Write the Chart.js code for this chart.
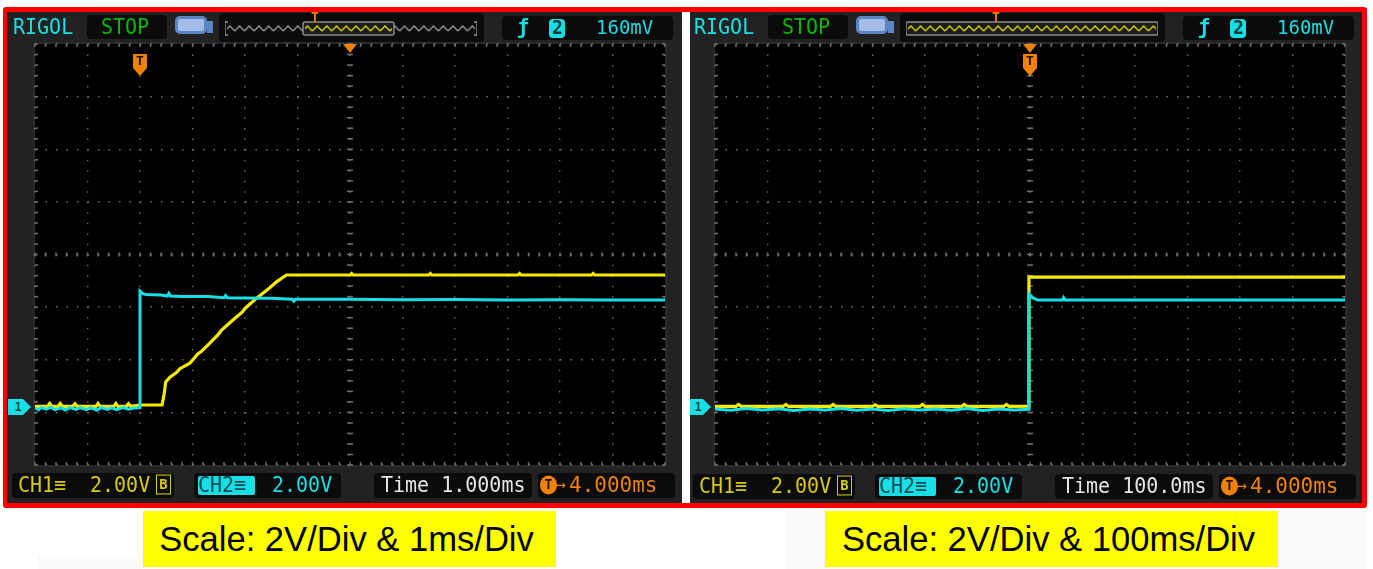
<!DOCTYPE html>
<html>
<head>
<meta charset="utf-8">
<title>RIGOL captures</title>
<script src="https://cdn.jsdelivr.net/npm/chart.js@4"></script>
<style>
	html, body { margin: 0; padding: 0; background: #fff; width: 1373px; height: 569px; overflow: hidden; }
	#frame { position: absolute; left: 3px; top: 7px; width: 1364px; height: 501px; background: #f00; border-radius: 3px; }
	#gap { position: absolute; left: 682px; top: 12px; width: 8px; height: 491px; background: #fff; }
	.patch { position: absolute; background: #fafafa; }
	.panel { position: absolute; top: 12px; height: 491px; background: #222; filter: blur(0.7px); }
	.panel canvas { position: absolute; left: 0; top: 0; }
	.box { position: absolute; background: #0b0b0b; border-radius: 4px; }
	.txt { position: absolute; font-family: "DejaVu Sans Mono", monospace; font-size: 20px; line-height: 24px; white-space: pre; transform: scaleY(1.05); }
	.cap { position: absolute; top: 511px; height: 56px; background: #ff0; color: #000; font-family: "Liberation Sans", Arial, sans-serif; font-size: 34.6px; line-height: 56px; text-align: center; white-space: pre; box-sizing: border-box; }
	.batt { position: absolute; width: 26px; height: 12px; background: #a3bde8; border: 3px solid #5b85c5; border-radius: 5px; box-sizing: content-box; }
	.nub { position: absolute; width: 6px; height: 12px; background: #5b85c5; }
</style>
</head>
<body>
<div class="patch" style="left:37px;top:557px;width:106px;height:12px"></div>
<div class="patch" style="left:785px;top:511px;width:582px;height:58px"></div>
<div id="frame"></div>
<div id="gap"></div>
<div class="panel" id="panelA" style="left:7px;width:675px"><canvas id="scopeA" width="675" height="491"></canvas></div>
<div class="panel" id="panelB" style="left:690px;width:672px"><canvas id="scopeB" width="672" height="491"></canvas></div>
<div class="cap" style="left:143px;width:413px;padding-right:6px">Scale: 2V/Div &amp; 1ms/Div</div>
<div class="cap" style="left:825px;width:453px;padding-right:6px">Scale: 2V/Div &amp; 100ms/Div</div>

<script>
// Grid lines, in the units of each capture
const fastTimeTicks = [-2, -1, 0, 1, 2, 3, 4, 5, 6, 7, 8, 9, 10];
const slowTimeTicks = [-600, -500, -400, -300, -200, -100, 0, 100, 200, 300, 400, 500, 600];
const voltTicks = [-2.2, -0.2, 1.8, 3.8, 5.8, 7.8, 9.8, 11.8, 13.8];

// Left capture, 1 ms/div: time in ms, level in V
const fastCh1Time = [-2, -1.76, -1.72, -1.68, -1.56, -1.52, -1.48, -1.28, -1.24, -1.2, -0.84, -0.8, -0.76, -0.5, -0.46, -0.42, -0.26, -0.22, -0.18, 0, 0.42, 0.46, 0.49, 0.57, 0.7, 0.76, 0.95, 1.1, 1.16, 1.33, 1.5, 1.55, 1.77, 1.95, 2.0, 2.22, 2.45, 2.6, 2.79, 4, 4.03, 4.06, 5.5, 5.53, 5.56, 7.2, 7.23, 7.26, 8.6, 8.63, 8.66, 10];
const fastCh1Volts = [0.03, 0.03, 0.14, 0.03, 0.03, 0.14, 0.03, 0.03, 0.13, 0.03, 0.03, 0.14, 0.03, 0.03, 0.14, 0.03, 0.03, 0.13, 0.03, 0.08, 0.08, 0.5, 0.96, 1.14, 1.32, 1.46, 1.67, 2.02, 2.1, 2.43, 2.78, 2.92, 3.31, 3.62, 3.75, 4.14, 4.5, 4.76, 5.02, 5.02, 5.08, 5.02, 5.02, 5.08, 5.02, 5.02, 5.08, 5.02, 5.02, 5.08, 5.02, 5.02];
const fastCh2Time = [-2, -1.93, -1.88, -1.78, -1.7, -1.62, -1.5, -1.42, -1.34, -1.22, -1.14, -1.02, -0.94, -0.82, -0.74, -0.62, -0.54, -0.44, -0.32, -0.22, -0.1, 0, 0, 0.06, 0.12, 0.4, 0.52, 0.55, 0.58, 0.8, 1.3, 1.6, 1.63, 1.66, 1.9, 2.5, 2.9, 2.93, 2.96, 3.2, 4, 5, 6, 7, 8, 9, 10];
const fastCh2Volts = [-0.03, -0.1, -0.02, -0.08, 0.0, -0.1, -0.03, -0.11, -0.02, -0.09, -0.02, -0.1, -0.03, -0.11, -0.02, -0.09, -0.03, -0.1, -0.02, -0.08, -0.03, -0.02, 4.41, 4.3, 4.28, 4.26, 4.22, 4.32, 4.22, 4.2, 4.2, 4.16, 4.24, 4.16, 4.15, 4.14, 4.1, 4.03, 4.1, 4.1, 4.1, 4.08, 4.09, 4.07, 4.08, 4.07, 4.07];

// Right capture, 100 ms/div
const slowCh1Time = [-600, -560, -555, -550, -470, -465, -460, -380, -375, -370, -300, -295, -290, -210, -205, -200, -130, -125, -120, -50, -45, -40, -2, -2, 600];
const slowCh1Volts = [0.03, 0.03, 0.1, 0.03, 0.03, 0.1, 0.03, 0.03, 0.1, 0.03, 0.03, 0.09, 0.03, 0.03, 0.1, 0.03, 0.03, 0.1, 0.03, 0.03, 0.1, 0.03, 0.04, 4.94, 4.94];
const slowCh2Time = [-600, -570, -540, -510, -480, -450, -420, -390, -360, -330, -300, -270, -240, -210, -180, -150, -120, -90, -60, -30, -2, -2, 5, 15, 62, 64, 67, 200, 600];
const slowCh2Volts = [-0.07, -0.12, -0.05, -0.11, -0.06, -0.13, -0.07, -0.11, -0.05, -0.12, -0.07, -0.13, -0.06, -0.11, -0.07, -0.12, -0.05, -0.13, -0.07, -0.11, -0.08, 4.3, 4.16, 4.07, 4.07, 4.16, 4.07, 4.07, 4.07];

const ch1Colour = "#f6ea00";
const ch2Colour = "#16e0e6";
const orange = "#ef8206";
const gridColour = "#6c6c6c";

const toPoints = (times, volts) => times.map((t, i) => ({ x: t, y: volts[i] }));

// Black screen, small graticule marks and the orange / cyan markers
const scopeDecor = {
	id: "scopeDecor",
	beforeDraw(chart) {
		const { ctx, chartArea: a } = chart;
		ctx.save();
		ctx.strokeStyle = "#333";
		ctx.lineWidth = 1;
		ctx.fillStyle = "#000";
		ctx.fillRect(a.left, a.top, a.width, a.height);
		ctx.strokeRect(a.left - 1, a.top - 1, a.width + 2, a.height + 2);
		ctx.restore();
	},
	beforeDatasetsDraw(chart) {
		const { ctx, chartArea: a } = chart;
		const stepX = a.width / 60;
		const stepY = a.height / 40;
		const midX = (a.left + a.right) / 2;
		const midY = (a.top + a.bottom) / 2;
		ctx.save();
		ctx.fillStyle = "#707070";
		for (let i = 0; i <= 40; i++) {
			const y = a.top + i * stepY;
			ctx.fillRect(midX - 3, y - 0.75, 6, 1.5);
			ctx.fillRect(a.left, y - 0.75, 3, 1.5);
			ctx.fillRect(a.right - 3, y - 0.75, 3, 1.5);
		}
		for (let i = 0; i <= 60; i++) {
			const x = a.left + i * stepX;
			ctx.fillRect(x - 0.75, midY - 2, 1.5, 4);
			ctx.fillRect(x - 0.75, a.top, 1.5, 3);
			ctx.fillRect(x - 0.75, a.bottom - 3, 1.5, 3);
		}
		ctx.restore();
	},
	afterDraw(chart) {
		const { ctx, chartArea: a, scales } = chart;
		const trigX = scales.x.getPixelForValue(0);
		const midX = (a.left + a.right) / 2;
		const zeroY = scales.y.getPixelForValue(0);
		ctx.save();
		// delay marker
		ctx.fillStyle = orange;
		ctx.beginPath();
		ctx.moveTo(midX - 7, a.top);
		ctx.lineTo(midX + 7, a.top);
		ctx.lineTo(midX, a.top + 9);
		ctx.fill();
		// trigger marker
		const top = a.top + 10;
		ctx.beginPath();
		ctx.moveTo(trigX - 7, top);
		ctx.lineTo(trigX + 7, top);
		ctx.lineTo(trigX + 7, top + 14);
		ctx.lineTo(trigX, top + 22);
		ctx.lineTo(trigX - 7, top + 14);
		ctx.fill();
		ctx.fillStyle = "#241200";
		ctx.font = "bold 13px 'DejaVu Sans Mono'";
		ctx.textAlign = "center";
		ctx.textBaseline = "middle";
		ctx.fillText("T", trigX, top + 8);
		// channel ground marker
		ctx.fillStyle = ch2Colour;
		ctx.beginPath();
		ctx.moveTo(a.left - 27, zeroY - 8);
		ctx.lineTo(a.left - 12, zeroY - 8);
		ctx.lineTo(a.left - 4, zeroY);
		ctx.lineTo(a.left - 12, zeroY + 8);
		ctx.lineTo(a.left - 27, zeroY + 8);
		ctx.fill();
		ctx.fillStyle = "#0a4a3a";
		ctx.font = "bold 12px 'DejaVu Sans Mono'";
		ctx.fillText("1", a.left - 17, zeroY + 1);
		ctx.restore();
	},
};

const makeScope = (canvasId, padLeft, timeTicks, ch1Time, ch1Volts, ch2Time, ch2Volts) => {
	const timeMin = timeTicks[0];
	const timeMax = timeTicks[timeTicks.length - 1];
	return new Chart(document.getElementById(canvasId), {
		type: "line",
		data: {
			datasets: [
				{ label: "CH2", data: toPoints(ch2Time, ch2Volts), borderColor: ch2Colour, borderWidth: 3, pointRadius: 0, tension: 0, order: 1 },
				{ label: "CH1", data: toPoints(ch1Time, ch1Volts), borderColor: ch1Colour, borderWidth: 3.2, pointRadius: 0, tension: 0, order: 2 },
			],
		},
		options: {
			responsive: false,
			animation: false,
			devicePixelRatio: 1,
			layout: { padding: { left: padLeft, right: 17, top: 32, bottom: 38 } },
			plugins: { legend: { display: false }, tooltip: { enabled: false } },
			scales: {
				x: {
					type: "linear",
					min: timeMin,
					max: timeMax,
					afterBuildTicks: (axis) => { axis.ticks = timeTicks.map((value) => ({ value })); },
					ticks: { display: false },
					grid: { color: gridColour, lineWidth: 1.4, drawTicks: false },
					border: { display: false, dash: [1.5, 52.56 / 5 - 1.5] },
				},
				y: {
					min: voltTicks[0],
					max: voltTicks[voltTicks.length - 1],
					afterBuildTicks: (axis) => { axis.ticks = voltTicks.map((value) => ({ value })); },
					ticks: { display: false },
					grid: { color: gridColour, lineWidth: 1.4, drawTicks: false },
					border: { display: false, dash: [1.5, 630 / 60 - 1.5] },
				},
			},
		},
		plugins: [scopeDecor],
	});
};

makeScope("scopeA", 28, fastTimeTicks, fastCh1Time, fastCh1Volts, fastCh2Time, fastCh2Volts);
makeScope("scopeB", 25, slowTimeTicks, slowCh1Time, slowCh1Volts, slowCh2Time, slowCh2Volts);

// Instrument status bars, as real text on top of the canvas
const addEl = (panel, cls, left, top, width, height, style, text) => {
	const el = document.createElement("div");
	el.className = cls;
	el.style.cssText = `left:${left}px;top:${top}px;${width ? `width:${width}px;` : ""}${height ? `height:${height}px;` : ""}${style || ""}`;
	if (text) el.textContent = text;
	panel.appendChild(el);
	return el;
};

const wave = (id, colour) =>
	`<pattern id="${id}" x="0" y="6" width="9.7" height="9" patternUnits="userSpaceOnUse"><polyline points="0,7 4.85,2 9.7,7" fill="none" stroke="${colour}" stroke-width="1.3"/></pattern>`;

const addHud = (panel, ox, oy, memLeft, winLeft, winWidth, timeText) => {
	addEl(panel, "txt", 6 + ox, 3, 0, 0, `color:${ch2Colour};`, "RIGOL");
	addEl(panel, "box", 80 + ox, 3, 80, 24);
	addEl(panel, "txt", 94 + ox, 3, 0, 0, "color:#06b806;", "STOP");
	addEl(panel, "batt", 168 + ox, 4);
	addEl(panel, "nub", 200 + ox, 9);
	addEl(panel, "box", 212 + ox, 1, 265, 29);
	const strip = addEl(panel, "", memLeft, 6, 252, 21, "position:absolute;");
	const inWin = winWidth < 252;
	strip.innerHTML = `<svg width="252" height="21" style="display:block"><defs>${wave("w" + memLeft, "#9a9a9a")}${wave("y" + memLeft, "#e2d800")}</defs>`
		+ (inWin ? `<rect x="2" y="6" width="248" height="9" fill="url(#w${memLeft})"/><path d="M3 4H0V17H3M249 4H252V17H249" fill="none" stroke="#999" stroke-width="1.3"/>` : "")
		+ `<rect x="${winLeft}" y="4" width="${winWidth}" height="13" rx="2" fill="#1c1c1c" stroke="#8a8a8a" stroke-width="1.5"/>`
		+ `<rect x="${winLeft + 2}" y="6" width="${winWidth - 4}" height="9" fill="url(#y${memLeft})"/></svg>`;
	addEl(panel, "txt", memLeft + 86, -6, 0, 0, `color:${orange};font-size:13px;font-weight:bold;`, "T");
	addEl(panel, "box", 495 + ox, 4, 171, 24);
	addEl(panel, "txt", 510 + ox, 3, 0, 0, `color:${ch2Colour};font-weight:bold;`, "ƒ");
	addEl(panel, "box", 542 + ox, 7, 16, 19, `background:${ch2Colour};`);
	addEl(panel, "txt", 545 + ox, 4, 0, 0, "color:#053a3a;font-size:18px;font-weight:bold;", "2");
	addEl(panel, "txt", 589 + ox, 3, 0, 0, `color:${ch2Colour};font-size:19px;`, "160mV");

	addEl(panel, "box", 5 + ox, 461 + oy, 162, 25);
	addEl(panel, "txt", 11 + ox, 461 + oy, 0, 0, "color:#d6cb10;", "CH1≡");
	addEl(panel, "txt", 83 + ox, 461 + oy, 0, 0, "color:#d6cb10;", "2.00V");
	addEl(panel, "txt", 150 + ox, 464 + oy, 13, 17, "color:#d6cb10;font-size:14px;line-height:17px;text-align:center;outline:1.5px solid #d6cb10;font-weight:bold;", "B");
	addEl(panel, "box", 187 + ox, 461 + oy, 147, 25);
	addEl(panel, "box", 191 + ox, 464 + oy, 57, 19, `background:${ch2Colour};border-radius:2px;`);
	addEl(panel, "txt", 191 + ox, 461 + oy, 0, 0, "color:#064a55;", "CH2≡");
	addEl(panel, "txt", 265 + ox, 461 + oy, 0, 0, `color:${ch2Colour};`, "2.00V");
	addEl(panel, "box", 367 + ox, 461 + oy, 158, 25);
	addEl(panel, "txt", 374 + ox, 461 + oy, 0, 0, "color:#e6e6e6;font-size:20px;", timeText);
	addEl(panel, "box", 531 + ox, 461 + oy, 137, 25);
	addEl(panel, "txt", 533 + ox, 464 + oy, 17, 18, `color:#241200;background:${orange};border-radius:9px;font-size:13px;line-height:18px;text-align:center;font-weight:bold;`, "T");
	addEl(panel, "txt", 549 + ox, 461 + oy, 0, 0, `color:${orange};font-size:16px;`, "→");
	addEl(panel, "txt", 562 + ox, 461 + oy, 0, 0, `color:${orange};font-size:21px;`, "4.000ms");
};

addHud(document.getElementById("panelA"), 0, 0, 218, 78, 91, "Time 1.000ms");
addHud(document.getElementById("panelB"), -2, 1, 216, 0, 252, "Time 100.0ms");
</script>
</body>
</html>
